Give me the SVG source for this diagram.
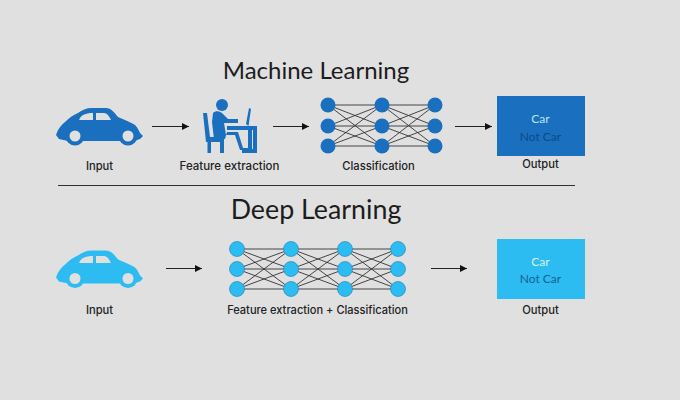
<svg xmlns="http://www.w3.org/2000/svg" width="680" height="400" viewBox="0 0 680 400">
<style>
.t{font-family:"Lato","Open Sans",sans-serif;fill:#1c1c1c;text-anchor:middle}
.h{font-size:24px}
.l{font-family:"Inter","Open Sans",sans-serif;font-size:11.200px;font-weight:500;fill:#222;text-anchor:middle}
.o{font-family:"Lato","Open Sans",sans-serif;font-size:12px;text-anchor:middle}
.e{stroke:#333;stroke-width:.9;fill:none}
.a{stroke:#222;stroke-width:1.1;fill:none;marker-end:url(#ah)}
.dk{fill:#1a6fbe}
.lt{fill:#2dbcf2}
.bg{fill:#e0e0e0}
</style>
<defs>
<marker id="ah" markerUnits="userSpaceOnUse" markerWidth="8" markerHeight="8" refX="7" refY="3.5" orient="auto"><path d="M0 0L7 3.5L0 7Z" fill="#111"/></marker>
<g id="car">
<path d="M0 27 C2 21 5 17 9 14 C13 10 17 7 22 5 C26 2 30 0 36 0 H50 C55 0 58 4 62 9 C68 12 75 14 79 17 C82 20 83 23 84 25 L87 28 L84 31 L78 33 H12 L3 31 Z"/>
<circle cx="19" cy="28" r="9.500"/><circle cx="72" cy="28" r="9.500"/>
</g>
</defs>
<rect width="680" height="400" fill="#e0e0e0"/>
<text class="t h" x="316" y="79">Machine Learning</text>
<text class="t h" x="316" y="219" style="font-size:26.800px">Deep Learning</text>
<line x1="58" y1="185.500" x2="575" y2="185.500" stroke="#333" stroke-width="1"/>

<g id="connectors">
<path class="a" d="M152 126.500H189"/>
<path class="a" d="M273 126.500H309"/>
<path class="a" d="M455 126.500H492"/>
<path class="a" d="M166 268.500H202"/>
<path class="a" d="M431 268.500H467"/>
<g id="ml-edges" class="e">
<path d="M328 105L382 105M328 105L382 126M328 105L382 146M328 126L382 105M328 126L382 126M328 126L382 146M328 146L382 105M328 146L382 126M328 146L382 146"/>
<path d="M382 105L435 105M382 105L435 126M382 105L435 146M382 126L435 105M382 126L435 126M382 126L435 146M382 146L435 105M382 146L435 126M382 146L435 146"/>
</g>
<g id="dl-edges" class="e">
<path d="M237 249L291 249M237 249L291 269M237 249L291 289M237 269L291 249M237 269L291 269M237 269L291 289M237 289L291 249M237 289L291 269M237 289L291 289"/>
<path d="M291 249L345 249M291 249L345 269M291 249L345 289M291 269L345 249M291 269L345 269M291 269L345 289M291 289L345 249M291 289L345 269M291 289L345 289"/>
<path d="M345 249L398 249M345 249L398 269M345 249L398 289M345 269L398 249M345 269L398 269M345 269L398 289M345 289L398 249M345 289L398 269M345 289L398 289"/>
</g>
</g>

<g id="ml-input">
<use href="#car" x="56" y="108" class="dk"/>
<g class="bg"><path d="M79 120C81 115 85 113 93 113V120Z"/><path d="M96 113H104C107 113 109 116 111 120H96Z"/><circle cx="75" cy="136" r="5.500"/><circle cx="128" cy="136" r="5.500"/></g>
<text class="l" x="99.500" y="170">Input</text>
</g>

<g id="ml-feature">
<circle cx="222" cy="105" r="6" class="dk"/>
<g class="dk">
<path d="M203 113L207 113L210 137H224V153H220V142H211V153H207.500V142H206Z"/>
<path d="M213 113C216 110 221 111 224 115L228 119H238V123H224L226 135H235L240 150H252V126H228V130H248V148H243L238 132H227L225 139H214L212 122Z"/>
<path d="M227 126H257V153H242V149H253V130H227Z"/>
<path d="M246 124L249 108L251 109L248.500 126Z"/>
</g>
<text class="l" x="229.500" y="170" style="font-size:11.500px">Feature extraction</text>
</g>

<g id="ml-classification" class="dk">
<circle cx="328" cy="105" r="7.500"/><circle cx="328" cy="126" r="7.500"/><circle cx="328" cy="146" r="7.500"/>
<circle cx="382" cy="105" r="7.500"/><circle cx="382" cy="126" r="7.500"/><circle cx="382" cy="146" r="7.500"/>
<circle cx="435" cy="105" r="7.500"/><circle cx="435" cy="126" r="7.500"/><circle cx="435" cy="146" r="7.500"/>
<text class="l" x="378.500" y="170">Classification</text>
</g>

<g id="ml-output">
<rect x="497" y="96" width="88" height="60" class="dk"/>
<text class="o" x="540.500" y="123" fill="#bfe3f8">Car</text>
<text class="o" x="540.500" y="141" fill="#0c4a88">Not Car</text>
<text class="l" x="540.500" y="168">Output</text>
</g>

<g id="dl-input">
<use href="#car" x="56" y="250.500" class="lt"/>
<g class="bg"><path d="M79 263C81 258 85 256 93 256V263Z"/><path d="M96 256H104C107 256 109 259 111 263H96Z"/><circle cx="75" cy="278.500" r="5.500"/><circle cx="128" cy="278.500" r="5.500"/></g>
<text class="l" x="99.500" y="314">Input</text>
</g>

<g id="dl-network" class="lt" stroke="#1a7fb0" stroke-width=".6">
<circle cx="237" cy="249" r="7.500"/><circle cx="237" cy="269" r="7.500"/><circle cx="237" cy="289" r="7.500"/>
<circle cx="291" cy="249" r="7.500"/><circle cx="291" cy="269" r="7.500"/><circle cx="291" cy="289" r="7.500"/>
<circle cx="345" cy="249" r="7.500"/><circle cx="345" cy="269" r="7.500"/><circle cx="345" cy="289" r="7.500"/>
<circle cx="398" cy="249" r="7.500"/><circle cx="398" cy="269" r="7.500"/><circle cx="398" cy="289" r="7.500"/>
</g>
<text class="l" x="317.500" y="314" style="font-size:11.050px">Feature extraction + Classification</text>

<g id="dl-output">
<rect x="497" y="239" width="88" height="60" class="lt"/>
<text class="o" x="540.500" y="266" fill="#d6f4ff">Car</text>
<text class="o" x="540.500" y="283" fill="#0d648f">Not Car</text>
<text class="l" x="540.500" y="314">Output</text>
</g>
</svg>
